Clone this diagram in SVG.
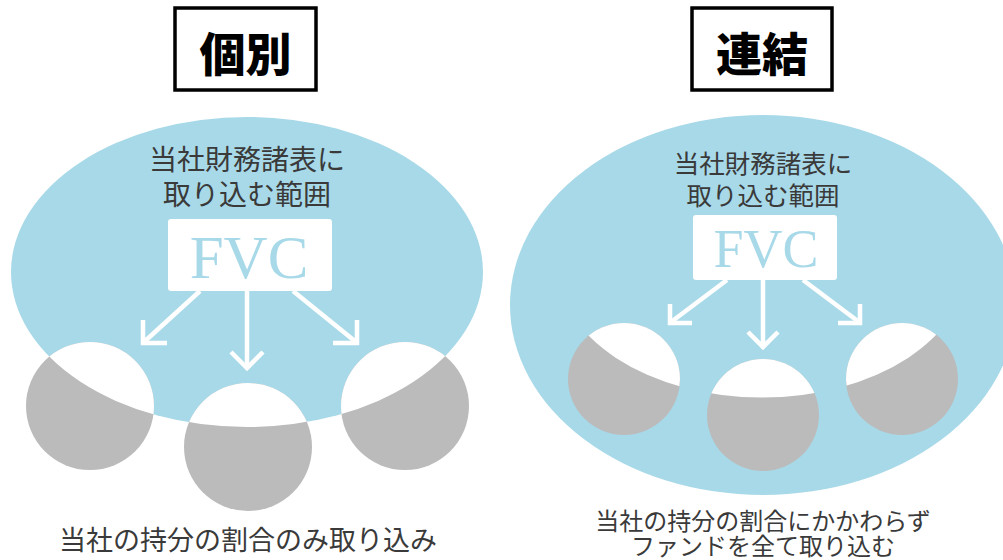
<svg xmlns="http://www.w3.org/2000/svg" width="1003" height="560" viewBox="0 0 1003 560">
<style>
.title{font-family:"Noto Sans CJK JP","Noto Sans CJK SC",sans-serif;font-weight:900;fill:#000;text-anchor:middle}
.tbox{fill:#fff;stroke:#000;stroke-width:3.5}
.scope{fill:#a8d9e8}
.lbl{font-family:"Noto Sans CJK JP","Noto Sans CJK SC",sans-serif;fill:#3a3a3a;text-anchor:middle}
.fvcbox{fill:#fff}
.fvc{font-family:"Liberation Serif","Times New Roman",serif;fill:#a8d9e8;text-anchor:middle}
.gray{fill:#bbbbbb}
.white{fill:#fff}
.arr{fill:none;stroke:#fff;stroke-width:4.5;stroke-linecap:butt;stroke-linejoin:miter}
</style>
<defs>
<clipPath id="clipL"><ellipse cx="247" cy="272" rx="236" ry="155"/></clipPath>
<clipPath id="clipR"><ellipse cx="762" cy="262" rx="206.5" ry="135.6"/></clipPath>
</defs>
<rect width="1003" height="560" fill="#fff"/>

<g id="title-left">
<rect class="tbox" x="175" y="8" width="141" height="82"/>
<text class="title" x="245.5" y="71" font-size="46">個別</text>
</g>
<g id="title-right">
<rect class="tbox" x="692" y="8" width="140" height="82"/>
<text class="title" x="762" y="71" font-size="46">連結</text>
</g>

<g id="scope-left">
<ellipse class="scope" cx="247" cy="272" rx="236" ry="155"/>
<text class="lbl" font-size="28"><tspan x="247" y="170">当社財務諸表に</tspan><tspan x="247" y="205">取り込む範囲</tspan></text>
</g>
<g id="scope-right">
<ellipse class="scope" cx="763" cy="305" rx="253" ry="190"/>
<text class="lbl" font-size="25.5"><tspan x="763" y="173">当社財務諸表に</tspan><tspan x="763" y="205">取り込む範囲</tspan></text>
</g>

<g id="fvc-left">
<rect class="fvcbox" x="168" y="219" width="164" height="72" rx="3"/>
<text class="fvc" x="249" y="278" font-size="61">FVC</text>
</g>
<g id="fvc-right">
<rect class="fvcbox" x="693" y="215" width="144" height="65" rx="3"/>
<text class="fvc" x="766" y="267" font-size="54">FVC</text>
</g>

<g id="funds-left">
<g id="fund-l1"><circle class="gray" cx="90" cy="406" r="64"/><circle class="white" cx="90" cy="406" r="64" clip-path="url(#clipL)"/></g>
<g id="fund-l2"><circle class="gray" cx="248" cy="447" r="64"/><circle class="white" cx="248" cy="447" r="64" clip-path="url(#clipL)"/></g>
<g id="fund-l3"><circle class="gray" cx="405" cy="406" r="64"/><circle class="white" cx="405" cy="406" r="64" clip-path="url(#clipL)"/></g>
</g>
<g id="funds-right">
<g id="fund-r1"><circle class="gray" cx="624" cy="379" r="56"/><circle class="white" cx="624" cy="379" r="56" clip-path="url(#clipR)"/></g>
<g id="fund-r2"><circle class="gray" cx="763" cy="415" r="56"/><circle class="white" cx="763" cy="415" r="56" clip-path="url(#clipR)"/></g>
<g id="fund-r3"><circle class="gray" cx="902" cy="379" r="56"/><circle class="white" cx="902" cy="379" r="56" clip-path="url(#clipR)"/></g>
</g>

<g id="connectors">
<line class="arr" x1="200" y1="291" x2="144" y2="342"/>
<polyline class="arr" points="143,320 143,343 167,343"/>
<line class="arr" x1="247" y1="291" x2="247" y2="368"/>
<polyline class="arr" points="231,352 247,368 263,352"/>
<line class="arr" x1="293" y1="291" x2="356" y2="342"/>
<polyline class="arr" points="357,320 357,343 333,343"/>

<line class="arr" x1="727" y1="280" x2="671" y2="322"/>
<polyline class="arr" points="670,304 670,323 692,323"/>
<line class="arr" x1="763" y1="280" x2="763" y2="347"/>
<polyline class="arr" points="748,332 763,347 778,332"/>
<line class="arr" x1="803" y1="280" x2="859" y2="322"/>
<polyline class="arr" points="860,304 860,323 838,323"/>
</g>

<g id="caption-left">
<text class="lbl" x="248" y="550" font-size="27">当社の持分の割合のみ取り込み</text>
</g>
<g id="caption-right">
<text class="lbl" font-size="24"><tspan x="763" y="530">当社の持分の割合にかかわらず</tspan><tspan x="763" y="555">ファンドを全て取り込む</tspan></text>
</g>
</svg>
